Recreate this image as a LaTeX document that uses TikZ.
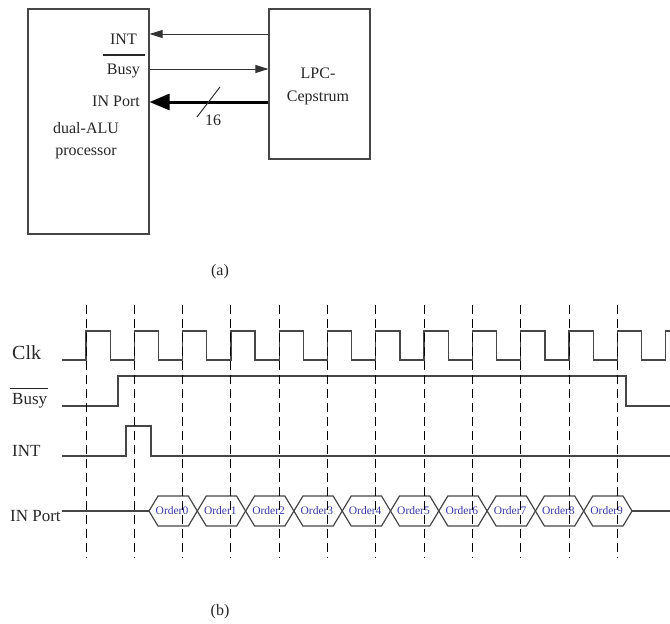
\documentclass[tikz,border=0pt]{standalone}
\usepackage{fontspec}
\setmainfont{Liberation Serif}
\usetikzlibrary{arrows.meta}
\definecolor{wirec}{RGB}{70,70,70}
\definecolor{ordc}{RGB}{55,55,170}
\newcommand\obar[2]{\vbox{\hrule height 1.1pt\kern#2\hbox{#1}}}
\begin{document}
\begin{tikzpicture}[x=1pt,y=-1pt,
  box/.style={draw=wirec, line width=1.1pt, inner sep=0pt},
  lbl/.style={font=\fontsize{16}{18}\selectfont, inner sep=0pt, text=black!85},
  tlbl/.style={font=\fontsize{17}{19}\selectfont, inner sep=0pt, text=black!85},
  sig/.style={draw=wirec, line width=1.3pt},
  thinarr/.style={draw=black!80, line width=1pt, -{Triangle[length=13pt,width=8pt]}},
  busarr/.style={draw=black, line width=3pt, -{Triangle[length=20pt,width=16pt]}},
  grid/.style={draw=black, line width=0.9pt, dash pattern=on 9pt off 5pt},
  hexa/.style={draw=wirec, line width=1.2pt},
  ord/.style={font=\fontsize{11.5}{12}\selectfont, text=ordc, inner sep=0pt}]
\useasboundingbox (0,0) rectangle (670,624);
% ---------- (a) block diagram ----------
\node[box, minimum width=121pt, minimum height=225pt] (alu) at (88.5,121.5) {};
\node[box, minimum width=101pt, minimum height=150pt] (lpc) at (319.5,84) {};
\node[lbl, anchor=base east] (tINT) at (137,44) {INT};
\node[lbl, anchor=base east] (tBusy) at (145,74) {\obar{\kern4pt Busy\kern5pt}{8pt}};
\node[lbl, anchor=base east] (tPort) at (140,106) {IN Port};
\node[lbl, anchor=base] (tdual) at (86,133) {dual-ALU};
\node[lbl, anchor=base] (tproc) at (86,155) {processor};
\node[lbl, anchor=base] (tlpc1) at (318,78) {LPC-};
\node[lbl, anchor=base] (tlpc2) at (318,101) {Cepstrum};
\coordinate (aI) at (alu.east |- 0,34);
\coordinate (lI) at (lpc.west |- 0,34);
\coordinate (aB) at (alu.east |- 0,69);
\coordinate (lB) at (lpc.west |- 0,69);
\coordinate (aP) at (alu.east |- 0,102);
\coordinate (lP) at (lpc.west |- 0,102);
\draw[thinarr] (lI) -- (aI);
\draw[thinarr] (aB) -- (lB);
\draw[busarr] (lP) -- (aP);
\coordinate (s1) at (197,117);
\coordinate (s2) at (220,87);
\draw[draw=black!80, line width=1pt] (s1) -- (s2);
\node[lbl, anchor=center] (n16) at (213,120) {16};
\node[lbl] (capa) at (220,272) {(a)};
% ---------- (b) timing diagram ----------
\node[tlbl, anchor=base west, font=\fontsize{20}{22}\selectfont] (lClk) at (12,359) {Clk};
\node[tlbl, anchor=base west] (lBusy) at (10,404) {\obar{\kern2pt Busy\kern1pt}{4pt}};
\node[tlbl, anchor=base west] (lINT) at (12,456) {INT};
\node[tlbl, anchor=base west] (lPort) at (10,521) {IN Port};
% Clk
\draw[sig] (62,360) \foreach \k in {0,...,11} { -- ({86+48.3*\k},360) -- ++(0,-29) -- ++(24.15,0) -- ++(0,29) } -- (665.6,360) -- ++(0,-29) -- (671,331);
% Busy
\draw[sig] (62,406) -- (118,406) -- (118,376) -- (626,376) -- (626,406) -- (671,406);
% INT
\draw[sig] (62,456) -- (126,456) -- (126,426) -- (151,426) -- (151,456) -- (671,456);
% IN Port
\draw[sig] (62,511) -- (149,511);
\foreach \k in {0,...,9} {
  \pgfmathsetmacro\c{149+48.3*\k}
  \pgfmathsetmacro\d{149+48.3*(\k+1)}
  \draw[hexa] (\c,511) -- (\c+9,496) -- (\d-9,496) -- (\d,511) -- (\d-9,526) -- (\c+9,526) -- cycle;
  \node[ord] (o\k) at (\c+23,511) {Order\k};
}
\draw[sig] (632,511) -- (671,511);
% dashed clock grid
\foreach \k in {0,...,11} {
  \draw[grid] ({86+48.3*\k},305) -- ({86+48.3*\k},558);
}
\node[lbl] (capb) at (220,612) {(b)};
\end{tikzpicture}
\end{document}
